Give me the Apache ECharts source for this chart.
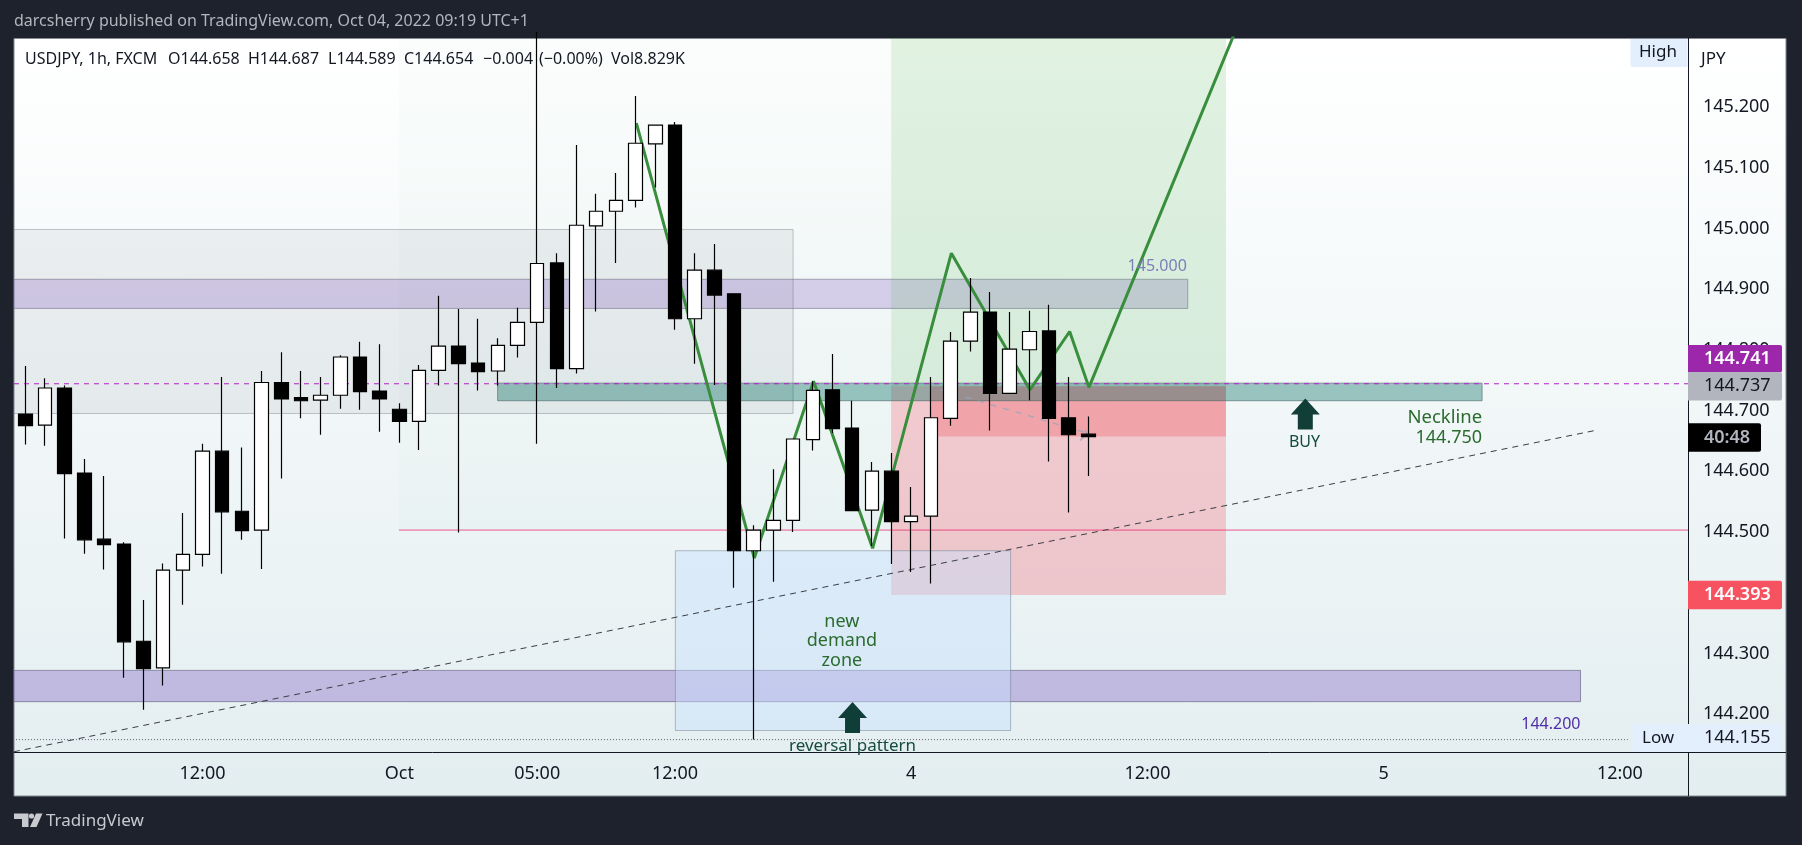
<!DOCTYPE html>
<html>
<head>
<meta charset="utf-8">
<title>USDJPY 1h</title>
<script src="https://cdn.jsdelivr.net/npm/echarts@6/dist/echarts.min.js"></script>
<style>
html, body { margin: 0; padding: 0; background: #1e222d; }
#chart { width: 1802px; height: 845px; }
</style>
</head>
<body>
<div id="chart"></div>
<script>
var fontName = '"Noto Sans", sans-serif';

// candles, one hour each
var candleOpen = [144.691,144.673,144.734,144.594,144.485,144.477,144.317,144.273,144.434,144.460,144.630,144.531,144.500,144.743,144.718,144.714,144.722,144.785,144.729,144.699,144.679,144.763,144.803,144.775,144.762,144.804,144.842,144.940,144.766,145.001,145.025,145.043,145.136,145.167,144.848,144.928,144.889,144.466,144.500,144.516,144.649,144.731,144.668,144.533,144.597,144.514,144.523,144.684,144.811,144.859,144.725,144.797,144.828,144.685,144.658];
var candleClose = [144.672,144.734,144.593,144.484,144.476,144.316,144.272,144.434,144.460,144.630,144.530,144.499,144.743,144.716,144.713,144.722,144.785,144.728,144.716,144.679,144.763,144.803,144.774,144.761,144.804,144.842,144.939,144.766,145.002,145.025,145.043,145.137,145.167,144.848,144.928,144.887,144.466,144.500,144.516,144.650,144.730,144.667,144.532,144.597,144.514,144.523,144.685,144.811,144.859,144.725,144.798,144.827,144.684,144.657,144.654];
var candleLow = [144.641,144.639,144.486,144.461,144.435,144.257,144.204,144.244,144.377,144.440,144.428,144.484,144.436,144.585,144.684,144.657,144.700,144.698,144.662,144.644,144.632,144.738,144.496,144.730,144.738,144.784,144.642,144.734,144.758,144.860,144.940,145.031,145.064,144.830,144.774,144.739,144.405,144.155,144.415,144.497,144.631,144.660,144.532,144.474,144.444,144.431,144.412,144.672,144.794,144.664,144.725,144.714,144.613,144.529,144.589];
var candleHigh = [144.770,144.750,144.738,144.617,144.589,144.480,144.385,144.445,144.528,144.642,144.752,144.636,144.762,144.793,144.762,144.752,144.788,144.810,144.806,144.709,144.772,144.886,144.864,144.848,144.816,144.866,145.320,144.956,145.134,145.054,145.088,145.215,145.167,145.172,144.956,144.971,144.889,144.508,144.600,144.650,144.745,144.790,144.713,144.612,144.627,144.571,144.752,144.826,144.915,144.892,144.859,144.861,144.871,144.752,144.687];

// axes
var priceTicks = [144.2,144.3,144.4,144.5,144.6,144.7,144.8,144.9,145.0,145.1,145.2];
var timeTicks = [9,19,26,33,45,57,69,81];
var timeTickLabels = ['12:00','Oct','05:00','12:00','4','12:00','5','12:00'];

// drawn zones, x in candle numbers, y in price
var zoneLeft = [-2,18.98,-2,43.98,43.98,46,23.99,-2,33.02];
var zoneRight = [39,43.98,59.05,60.99,60.99,60.99,74,79,50.05];
var zoneTop = [144.995,145.4,144.913,145.4,144.737,144.737,144.742,144.269,144.466];
var zoneBottom = [144.692,144.5,144.865,144.737,144.393,144.654,144.713,144.2175,144.17];

// drawn lines
var pathX = [31.04,37.03,40.04,43.04,47.04,51.03,53.05,54.03,61.7];
var pathY = [145.17,144.454,144.745,144.47,144.956,144.731,144.827,144.735,145.34];
var trendX = [-0.58,79.89];
var trendY = [144.135,144.665];
var entryX = [46.5,53.92];
var entryY = [144.731,144.66];
var entryTipX = [53.58,53.93,53.83];
var entryTipY = [144.6476,144.6583,144.665];
var highLowX = [-2,81.4];
var lowPrice = 144.155;
var midPrice = 144.5;
var closeLinePrice = 144.741;

// arrows and notes
var arrowX = [42.02,65.02];
var arrowY = [144.1915,144.691];
var noteText = ['145.000','144.200','new\ndemand\nzone','reversal pattern','BUY','Neckline','144.750'];
var noteX = [59,79,41.48,42.02,64.98,74,74];
var noteY = [144.934,144.18,144.3175,144.145,144.644,144.685,144.652];

// tags on the price scale
var tagPrice = [144.741,144.737,144.654,144.393,144.155];
var tagText = ['144.741','144.737','40:48','144.393','144.155'];

var headline = 'darcsherry published on TradingView.com, Oct 04, 2022 09:19 UTC+1';
var legendParts = ['USDJPY, 1h, FXCM','O144.658','H144.687','L144.589','C144.654','\u22120.004','(\u22120.00%)','Vol8.829K'];

var zoneStyles = [
    { fill: 'rgba(120,123,134,0.10)', stroke: 'rgba(120,123,134,0.42)' },
    { fill: 'rgba(76,175,80,0.018)', stroke: 'none' },
    { fill: 'rgba(103,58,183,0.22)', stroke: 'rgba(110,105,130,0.55)' },
    { fill: 'rgba(76,175,80,0.17)', stroke: 'none' },
    { fill: 'rgba(242,54,69,0.23)', stroke: 'none' },
    { fill: 'rgba(242,54,69,0.26)', stroke: 'none' },
    { fill: 'rgba(0,105,92,0.37)', stroke: 'rgba(70,100,100,0.6)' },
    { fill: 'rgba(103,58,183,0.30)', stroke: 'rgba(110,105,140,0.7)' },
    { fill: 'rgba(200,225,252,0.45)', stroke: 'rgba(110,125,145,0.5)' }
];
var noteStyles = [
    { color: '#7d7fb8', size: 16, align: 'right' },
    { color: '#512da8', size: 16, align: 'right' },
    { color: '#2a6b2e', size: 18, align: 'center', lineHeight: 19.5 },
    { color: '#154a3e', size: 17, align: 'center' },
    { color: '#154a3e', size: 16, align: 'center' },
    { color: '#2a6b2e', size: 18.5, align: 'right' },
    { color: '#2a6b2e', size: 18, align: 'right' }
];
var tagStyles = [
    { bg: '#9c27ab', color: '#fff', width: 94, shift: -25, height: 27.5, weight: '600' },
    { bg: '#b2b5be', color: '#131722', width: 94, shift: 0, height: 28.5 },
    { bg: '#000', color: '#b2b5be', width: 73, shift: 1, height: 28.5, weight: '600' },
    { bg: '#f7525f', color: '#fff', width: 94, shift: 0, height: 28.5, weight: '600' },
    { bg: '#e3effd', color: '#131722', width: 94, shift: -1.6, height: 28 }
];

function pairs(xs, ys) {
    return xs.map(function (x, i) { return [x, ys[i]]; });
}

function lineSeries(data, color, width, type, z) {
    return {
        type: 'line', data: data, showSymbol: false, silent: true, z: z,
        lineStyle: { color: color, width: width, type: type }
    };
}

var candleData = candleOpen.map(function (o, i) {
    return [i, o, candleClose[i], candleLow[i], candleHigh[i]];
});
var zoneData = zoneLeft.map(function (x, i) {
    return [x, zoneRight[i], zoneTop[i], zoneBottom[i]];
});
var noteData = noteText.map(function (t, i) {
    return [noteX[i], noteY[i], t];
});
var tagData = tagPrice.map(function (p, i) {
    return [0, p, tagText[i]];
});

function drawZone(params, api) {
    var a = api.coord([api.value(0), api.value(2)]);
    var b = api.coord([api.value(1), api.value(3)]);
    var s = zoneStyles[params.dataIndex];
    return {
        type: 'rect',
        shape: { x: a[0], y: a[1], width: b[0] - a[0], height: b[1] - a[1] },
        style: { fill: s.fill, stroke: s.stroke, lineWidth: 1 }
    };
}

function drawNote(params, api) {
    var p = api.coord([api.value(0), api.value(1)]);
    var s = noteStyles[params.dataIndex];
    return {
        type: 'text', x: p[0], y: p[1],
        style: {
            text: noteText[params.dataIndex], fill: s.color, font: s.size + 'px ' + fontName,
            align: s.align, verticalAlign: 'middle', lineHeight: s.lineHeight || s.size
        }
    };
}

function drawTag(params, api) {
    var y = api.coord([0, api.value(1)])[1];
    var s = tagStyles[params.dataIndex];
    var left = params.coordSys.x + params.coordSys.width;
    var mid = y + s.shift;
    return {
        type: 'group',
        children: [
            { type: 'rect', shape: { x: left, y: mid - s.height / 2, width: s.width, height: s.height, r: [0, 2, 2, 0] }, style: { fill: s.bg } },
            { type: 'text', x: left + 16, y: mid, style: { text: tagText[params.dataIndex], fill: s.color, font: (s.weight || 'normal') + ' 18px ' + fontName, verticalAlign: 'middle' } }
        ]
    };
}

// page furniture that is not data
var legendLeft = [25,168,248,328,404,483,539,611];
var furniture = [
    { type: 'rect', z: 0, shape: { x: 14, y: 38.5, width: 1772, height: 757.5 },
      style: { stroke: '#868993', lineWidth: 1, fill: new echarts.graphic.LinearGradient(0, 0, 0, 1, [{ offset: 0, color: '#ffffff' }, { offset: 1, color: '#e3eef0' }]) } },
    { type: 'line', z: 20, shape: { x1: 1688.5, y1: 752, x2: 1688.5, y2: 796 }, style: { stroke: '#131722', lineWidth: 1 } },
    { type: 'line', z: 20, shape: { x1: 1688, y1: 752.5, x2: 1786, y2: 752.5 }, style: { stroke: '#131722', lineWidth: 1 } },
    { type: 'text', z: 20, x: 14, y: 21, style: { text: headline, fill: '#b2b5be', font: '16px ' + fontName, verticalAlign: 'middle' } },
    { type: 'text', z: 20, x: 1701, y: 59.5, style: { text: 'JPY', fill: '#131722', font: '17px ' + fontName, verticalAlign: 'middle' } },
    { type: 'rect', z: 20, shape: { x: 1630.5, y: 39, width: 57, height: 28, r: [0, 0, 0, 2] }, style: { fill: '#e3effd' } },
    { type: 'text', z: 21, x: 1639, y: 52, style: { text: 'High', fill: '#131722', font: '17px ' + fontName, verticalAlign: 'middle' } },
    { type: 'rect', z: 20, shape: { x: 1632.5, y: 724, width: 55, height: 28, r: [2, 0, 0, 2] }, style: { fill: '#e3effd' } },
    { type: 'text', z: 21, x: 1642, y: 738.5, style: { text: 'Low', fill: '#131722', font: '17px ' + fontName, verticalAlign: 'middle' } },
    { type: 'polygon', z: 20, shape: { points: [[14, 813.5], [28.5, 813.5], [28.5, 827], [22, 827], [22, 819], [14, 819]] }, style: { fill: '#c8cad0' } },
    { type: 'polygon', z: 20, shape: { points: [[36, 813.5], [42.5, 813.5], [36.5, 827], [30, 827]] }, style: { fill: '#c8cad0' } },
    { type: 'circle', z: 20, shape: { cx: 31.5, cy: 816, r: 2.6 }, style: { fill: '#c8cad0' } },
    { type: 'text', z: 20, x: 46, y: 821, style: { text: 'TradingView', fill: '#c8cad0', font: '17px ' + fontName, verticalAlign: 'middle' } }
];
legendParts.forEach(function (t, i) {
    furniture.push({ type: 'text', z: 20, x: legendLeft[i], y: 59.5, style: { text: t, fill: '#131722', font: '16px ' + fontName, verticalAlign: 'middle' } });
});

var myChart = echarts.init(document.getElementById('chart'), null, { renderer: 'canvas' });

var option = {
    animation: false,
    backgroundColor: '#1e222d',
    graphic: furniture,
    grid: { left: 14, top: 38, width: 1674, height: 714 },
    xAxis: {
        type: 'value', min: -0.576, max: 84.46,
        splitLine: { show: false }, axisTick: { show: false },
        axisLine: { show: true, onZero: false, lineStyle: { color: '#131722', width: 1 } },
        axisLabel: {
            customValues: timeTicks, color: '#131722', fontFamily: fontName, fontSize: 18, margin: 13,
            formatter: function (v) { return timeTickLabels[timeTicks.indexOf(v)]; }
        }
    },
    yAxis: {
        type: 'value', position: 'right', min: 144.1346, max: 145.3103,
        splitLine: { show: false }, axisTick: { show: false },
        axisLine: { show: true, onZero: false, lineStyle: { color: '#131722', width: 1 } },
        axisLabel: {
            customValues: priceTicks, margin: 15,
            formatter: function (v) { return '{p|' + v.toFixed(3) + '}'; },
            rich: { p: { color: '#131722', fontFamily: fontName, fontSize: 18, padding: [4, 0, 0, 0] } }
        }
    },
    series: [
        { type: 'custom', renderItem: drawZone, data: zoneData, clip: true, silent: true, z: 3,
          encode: { x: [0, 1], y: [2, 3] } },
        lineSeries([[18.98, midPrice], [84.46, midPrice]], 'rgba(233,30,99,0.42)', 1.7, 'solid', 4),
        lineSeries([[-0.576, closeLinePrice], [84.46, closeLinePrice]], '#b21fc9', 1.2, [5, 5], 4),
        lineSeries([[highLowX[0], lowPrice], [highLowX[1], lowPrice]], '#5d6068', 1, [1, 2], 4),
        lineSeries(pairs(trendX, trendY), '#3a3d45', 1, [6, 5], 4),
        lineSeries(pairs(entryX, entryY), 'rgba(150,165,185,0.75)', 1.5, [6, 7], 4),
        lineSeries(pairs(entryTipX, entryTipY), 'rgba(150,165,185,0.75)', 1.5, 'solid', 4),
        lineSeries(pairs(pathX, pathY), '#388e3c', 3, 'solid', 5),
        {
            type: 'candlestick', data: candleData, barWidth: 14, z: 6, silent: true,
            itemStyle: { color: '#ffffff', color0: '#000000', borderColor: '#000000', borderColor0: '#000000', borderWidth: 1.2 }
        },
        {
            type: 'scatter', data: pairs(arrowX, arrowY), z: 7, silent: true,
            symbol: 'path://M14.5 0L29 16H22V31H7V16H0Z', symbolSize: [29, 31],
            itemStyle: { color: '#04352d', opacity: 0.95 }
        },
        { type: 'custom', renderItem: drawNote, data: noteData, clip: false, silent: true, z: 8,
          encode: { x: 0, y: 1 } },
        { type: 'custom', renderItem: drawTag, data: tagData, clip: false, silent: true, z: 12,
          encode: { x: 0, y: 1 } }
    ]
};

myChart.setOption(option);
</script>
</body>
</html>
